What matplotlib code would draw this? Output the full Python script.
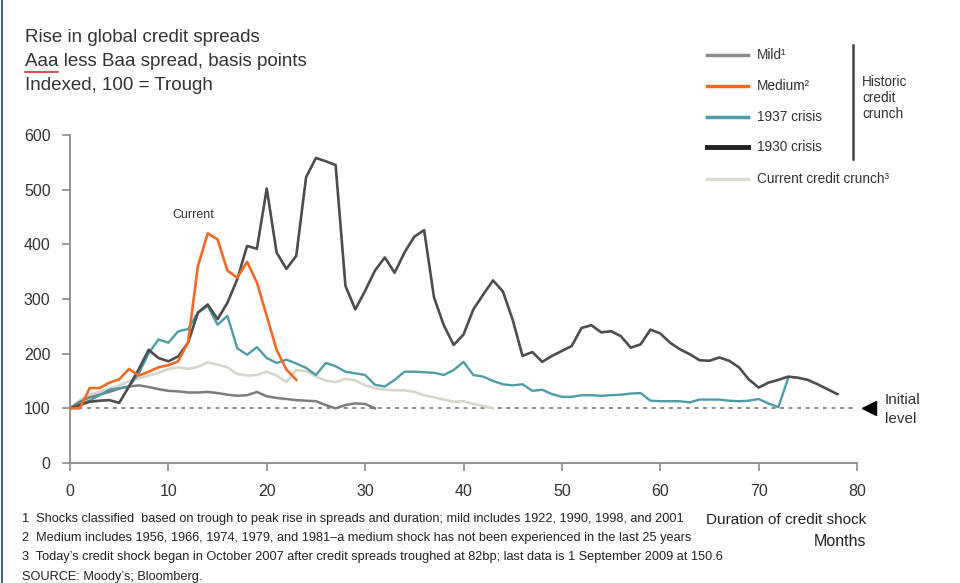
import numpy as np
import matplotlib
matplotlib.use("Agg")
import matplotlib.pyplot as plt
from matplotlib.lines import Line2D

plt.rcParams['font.family'] = ['Liberation Sans', 'DejaVu Sans']

# index values by month since trough (100 = trough)
mild = [100, 112, 120, 125, 130, 136, 140, 142, 139, 135, 132, 131, 129, 129, 130, 128,
        125, 123, 124, 130, 122, 119, 117, 115, 114, 113, 106, 100, 106, 109, 108, 100]
medium = [100, 100, 137, 137, 147, 153, 172, 160, 167, 175, 179, 186, 221, 360, 420, 409,
          352, 339, 368, 330, 269, 207, 171, 152]
crisis_1937 = [100, 108, 114, 124, 134, 137, 140, 164, 201, 226, 220, 241, 245, 275, 287, 253,
               269, 210, 198, 212, 192, 183, 189, 182, 174, 161, 183, 177, 167, 164, 161, 143,
               140, 152, 167, 167, 166, 165, 161, 170, 185, 161, 158, 150, 144, 142, 144, 132,
               134, 126, 121, 121, 124, 124, 123, 124, 125, 127, 128, 114, 113, 113, 113, 111,
               116, 116, 116, 114, 113, 114, 117, 109, 102, 155]
crisis_1930 = [100, 106, 112, 114, 115, 110, 140, 172, 207, 192, 186, 195, 220, 275, 290, 263,
               293, 336, 397, 392, 502, 385, 355, 379, 523, 558, 552, 545, 324, 281, 315, 352,
               376, 348, 385, 414, 426, 303, 252, 216, 235, 281, 308, 334, 314, 262, 196, 203,
               185, 196, 205, 214, 247, 252, 239, 241, 232, 211, 217, 244, 237, 220, 208, 199,
               188, 187, 193, 187, 175, 153, 138, 147, 152, 158, 156, 152, 144, 135, 126]
current = [100, 115, 125, 130, 136, 142, 150, 155, 160, 165, 172, 175, 172, 176, 184, 180,
           175, 163, 160, 161, 167, 160, 148, 170, 168, 158, 151, 148, 154, 151, 142, 137,
           134, 133, 133, 130, 124, 120, 116, 112, 113, 108, 104, 100]

series_labels = ['Mild\u00b9', 'Medium\u00b2', '1937 crisis', '1930 crisis', 'Current credit crunch\u00b3']
x_ticks = [0, 10, 20, 30, 40, 50, 60, 70, 80]
y_ticks = [0, 100, 200, 300, 400, 500, 600]

W, H = 960, 583
def px(x, y):
    return x / W, 1 - y / H

fig = plt.figure(figsize=(9.6, 5.83), dpi=100)
ax = fig.add_axes([70 / W, 1 - 463 / H, (857 - 70) / W, (463 - 135) / H])

ax.plot(np.arange(len(current)), current, color='#d6d6cb', lw=1.9, zorder=2)
ax.plot(np.arange(len(mild)), mild, color='#7c7c7c', lw=1.8, zorder=3)
ax.plot(np.arange(len(crisis_1937)), crisis_1937, color='#4e9ca6', lw=1.7, zorder=4)
ax.plot(np.arange(len(crisis_1930)), crisis_1930, color='#4d4d4d', lw=1.9, zorder=5)
ax.plot(np.arange(len(medium)), medium, color='#f26a25', lw=1.9, zorder=6)

ax.plot([0, 80], [100, 100], color='#8a8a8a', lw=1.4, ls=(0, (2, 2.4)), zorder=1)
ax.plot([81.2], [100], marker='<', color='black', markersize=10, clip_on=False)

ax.set_xlim(0, 80)
ax.set_ylim(0, 600)
ax.set_xticks(x_ticks)
ax.set_yticks(y_ticks)
for s in ['top', 'right']:
    ax.spines[s].set_visible(False)
for s in ['left', 'bottom']:
    ax.spines[s].set_color('#8a8a8a')
    ax.spines[s].set_linewidth(1.3)
ax.tick_params(axis='both', colors='#8a8a8a', width=1.2, length=6, labelcolor='#333333',
               labelsize=11.5)
ax.tick_params(axis='y', pad=8)
ax.tick_params(axis='x', pad=9)

ax.text(12.5, 453, 'Current', fontsize=9, color='#333333', ha='center', va='center')

# titles
fig.text(*px(25, 38), 'Rise in global credit spreads', fontsize=13.5, color='#333333', va='center')
fig.text(*px(25, 62), 'Aaa less Baa spread, basis points', fontsize=13.5, color='#333333', va='center')
fig.text(*px(25, 86), 'Indexed, 100 = Trough', fontsize=13.5, color='#333333', va='center')
fig.add_artist(Line2D([25 / W, 58 / W], [1 - 72 / H, 1 - 72 / H], color='#d9322a', lw=1.2))

# legend drawn by hand
leg_colors = ['#8c8c8c', '#f26a25', '#4e9ca6', '#202020', '#dcdcd2']
leg_widths = [2.5, 2.5, 2.5, 3.5, 2.5]
leg_y = [55, 86, 117, 147, 179]
for lab, c, lw, y in zip(series_labels, leg_colors, leg_widths, leg_y):
    fig.add_artist(Line2D([707 / W, 748 / W], [1 - y / H, 1 - y / H], color=c, lw=lw))
    fig.text(*px(757, y), lab, fontsize=9.8, color='#333333', va='center')
fig.add_artist(Line2D([853 / W, 853 / W], [1 - 45 / H, 1 - 159 / H], color='#444444', lw=1.8))
for t, y in zip(['Historic', 'credit', 'crunch'], [82, 98, 114]):
    fig.text(*px(862, y), t, fontsize=9.8, color='#333333', va='center')

fig.text(*px(885, 400), 'Initial', fontsize=11, color='#333333', va='center')
fig.text(*px(885, 419), 'level', fontsize=11, color='#333333', va='center')

# footnotes
notes = ['1  Shocks classified  based on trough to peak rise in spreads and duration; mild includes 1922, 1990, 1998, and 2001',
         '2  Medium includes 1956, 1966, 1974, 1979, and 1981\u2013a medium shock has not been experienced in the last 25 years',
         '3  Today\u2019s credit shock began in October 2007 after credit spreads troughed at 82bp; last data is 1 September 2009 at 150.6',
         'SOURCE: Moody\u2019s; Bloomberg.']
for t, y in zip(notes, [519, 538, 557, 577]):
    fig.text(*px(22, y), t, fontsize=9.2, color='#222222', va='center')
fig.text(*px(866, 520), 'Duration of credit shock', fontsize=11, color='#222222', va='center', ha='right')
fig.text(*px(866, 541), 'Months', fontsize=11.5, color='#222222', va='center', ha='right')

fig.add_artist(Line2D([1.5 / W, 1.5 / W], [0, 1], color='#46627e', lw=1.5))

fig.savefig('out.png', dpi=100)
